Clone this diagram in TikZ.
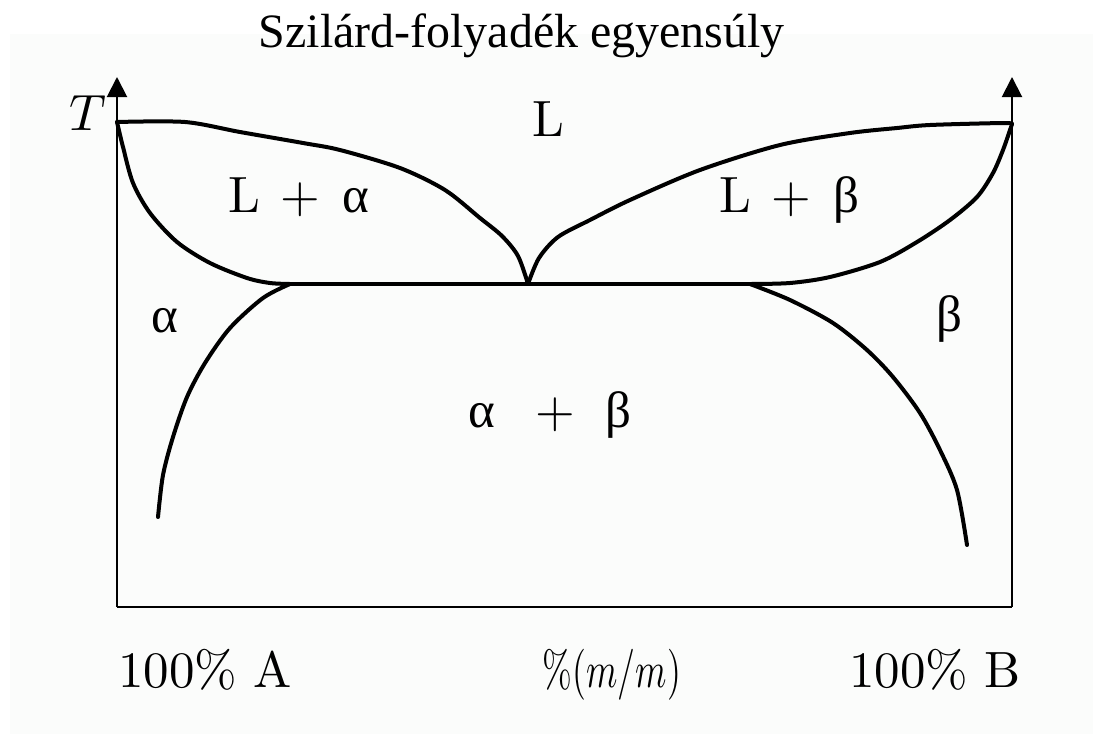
\documentclass[tikz,border=0pt]{standalone}
\usepackage{fontspec}
\usepackage{tikz}
\usetikzlibrary{arrows.meta}
\newfontfamily\titlefont{Liberation Serif}
\definecolor{paper}{HTML}{FBFCFB}

\begin{document}
\begin{tikzpicture}[
      x=0.5pt, y=-0.5pt,
      lbl/.style={inner sep=0pt, anchor=base west, scale=2.55,
                  font=\fontsize{10}{12}\selectfont},
      curve/.style={line width=2pt, line join=round, line cap=round},
      axis/.style={line width=1pt},
      arr/.style={-{Triangle[width=10pt, length=10pt]}, axis}
    ]
    \useasboundingbox (0,0) rectangle (1093,734);
    \fill[paper] (10,34) rectangle (1093,734);

    \coordinate (meltA) at (117,122);
    \coordinate (meltB) at (1012,124);
    \coordinate (eut) at (528,284);
    \coordinate (solA) at (290,284);
    \coordinate (solB) at (750,284);
    \coordinate (origA) at (117,607);
    \coordinate (origB) at (1012,607);
    \coordinate (topA) at (117,77);
    \coordinate (topB) at (1012,77);

    \node[lbl, scale=0.94] (title) at (258,47) {\titlefont Szilárd-folyadék egyensúly};
    \node[lbl, anchor=center] (tlabel) at (88,113) {$T$};
    \node[lbl, anchor=base] (liq) at (548,136) {L};
    \node[lbl] (liqalpha) at (227,212) {L\hspace{0.4em}+\hspace{0.45em}{\titlefont α}};
    \node[lbl] (liqbeta) at (718,212) {L\hspace{0.4em}+\hspace{0.45em}{\titlefont β}};
    \node[lbl] (alpha) at (150,332) {\titlefont α};
    \node[lbl] (beta) at (935,331) {\titlefont β};
    \node[lbl] (mix) at (467,427) {{\titlefont α}\hspace{0.8em}+\hspace{0.6em}{\titlefont β}};
    \node[lbl] (pureA) at (117,687) {100\% A};
    \node[lbl, anchor=base, xscale=0.7] (conc) at (612,687) {\%($m/m$)};
    \node[lbl] (pureB) at (848,687) {100\% B};

    \draw[arr] (origA) -- (topA);
    \draw[arr] (origB) -- (topB);
    \draw[axis] (origA) -- (origB);

    \draw[curve] plot[smooth] coordinates {(meltA) (185,122) (240,132) (303,143)
      (340,150) (400,168) (445,190) (480,218) (502,236) (518,256) (eut)};
    \draw[curve] plot[smooth] coordinates {(meltB) (1003,123) (930,125) (897,128)
      (850,133) (780,145) (700,170) (630,200) (590,220) (558,237) (539,258) (eut)};
    \draw[curve] plot[smooth] coordinates {(meltA) (123,147) (133,183) (150,213)
      (177,242) (210,263) (247,278) (270,283) (solA)};
    \draw[curve] plot[smooth] coordinates {(meltB) (1010,130) (1003,150) (993,173)
      (977,197) (950,220) (917,242) (880,262) (830,277) (790,283) (solB)};
    \draw[curve] (solA) -- (solB);
    \draw[curve] plot[smooth] coordinates {(solA) (263,298) (230,328) (205,363)
      (187,397) (173,437) (163,475) (158,517)};
    \draw[curve] plot[smooth] coordinates {(solB) (790,300) (833,323) (867,350)
      (893,377) (920,413) (940,450) (957,490) (967,545)};
  \end{tikzpicture}
\end{document}
